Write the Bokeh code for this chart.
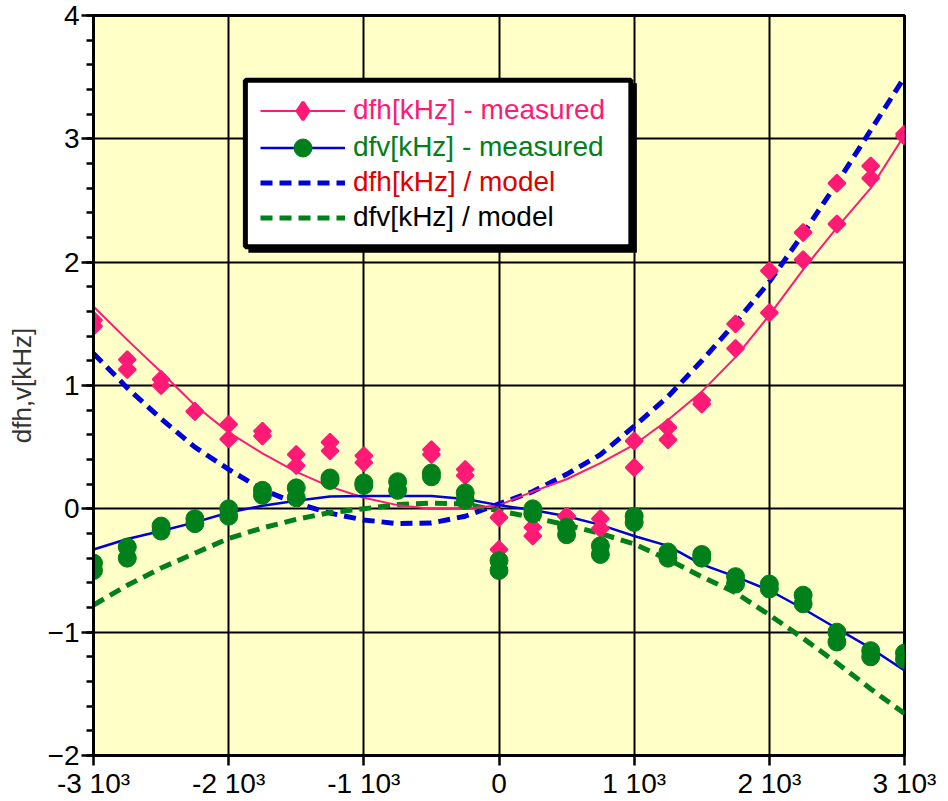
import numpy as np
from bokeh.plotting import figure
from bokeh.models import Range1d, FixedTicker, Legend, LegendItem, BoxAnnotation
from bokeh.embed import file_html
from bokeh.resources import INLINE

# ---------------- data ----------------
x_meas = [-3000, -2750, -2500, -2250, -2000, -1750, -1500, -1250, -1000, -750, -500, -250,
          0, 250, 500, 750, 1000, 1250, 1500, 1750, 2000, 2250, 2500, 2750, 3000]

# dfh measured (two readings per point)
dfh_meas_a = [1.53, 1.21, 1.05, 0.79, 0.685, 0.63, 0.44, 0.54, 0.43, np.nan, 0.48, 0.32,
              -0.07, -0.15, -0.06, -0.08, 0.55, 0.66, 0.88, 1.50, 1.93, 2.24, 2.64, 2.78, 3.04]
dfh_meas_b = [1.48, 1.13, 1.00, 0.79, 0.565, 0.59, 0.35, 0.47, 0.375, np.nan, 0.44, 0.27,
              -0.33, -0.22, -0.06, -0.16, 0.335, 0.56, 0.85, 1.30, 1.59, 2.02, 2.31, 2.68, 3.02]

# dfv measured (two readings per point)
dfv_meas_a = [-0.44, -0.31, -0.14, -0.08, 0.00, 0.15, 0.17, 0.25, 0.21, 0.22, 0.29, 0.13,
              -0.42, 0.00, -0.15, -0.30, -0.06, -0.35, -0.37, -0.55, -0.61, -0.70, -1.00, -1.15, -1.17]
dfv_meas_b = [-0.50, -0.40, -0.18, -0.12, -0.06, 0.11, 0.09, 0.23, 0.19, 0.15, 0.26, 0.07,
              -0.50, -0.04, -0.21, -0.37, -0.11, -0.40, -0.40, -0.61, -0.65, -0.77, -1.08, -1.20, -1.22]

# smooth fits through the measurements
x_curve = x_meas
dfh_fit = [1.64, 1.37, 1.11, 0.84, 0.62, 0.45, 0.30, 0.18, 0.09, 0.03, 0.00, 0.00,
           0.03, 0.14, 0.24, 0.37, 0.52, 0.72, 0.95, 1.23, 1.57, 1.94, 2.28, 2.60, 3.03]
dfv_fit = [-0.33, -0.245, -0.18, -0.11, -0.03, 0.025, 0.065, 0.10, 0.105, 0.105, 0.105, 0.08,
           0.03, -0.01, -0.06, -0.13, -0.22, -0.30, -0.45, -0.55, -0.66, -0.81, -0.97, -1.13, -1.31]

# model curves
dfh_model = [1.26, 0.98, 0.73, 0.50, 0.32, 0.155, 0.045, -0.035, -0.09, -0.12, -0.115, -0.06,
             0.04, 0.14, 0.28, 0.44, 0.67, 0.91, 1.20, 1.51, 1.84, 2.23, 2.64, 3.07, 3.50]
dfv_model = [-0.78, -0.62, -0.48, -0.36, -0.24, -0.155, -0.085, -0.03, 0.0, 0.035, 0.046, 0.04,
             -0.016, -0.07, -0.13, -0.20, -0.285, -0.41, -0.55, -0.68, -0.86, -1.05, -1.25, -1.46, -1.66]

x_ticks = [-3000, -2000, -1000, 0, 1000, 2000, 3000]
x_tick_labels = ["-3 10\u00b3", "-2 10\u00b3", "-1 10\u00b3", "0", "1 10\u00b3", "2 10\u00b3", "3 10\u00b3"]
y_ticks = [-2, -1, 0, 1, 2, 3, 4]
y_label = "dfh,v[kHz]"

legend_labels = ["dfh[kHz] - measured", "dfv[kHz] - measured", "dfh[kHz] / model", "dfv[kHz] / model"]

# ---------------- style ----------------
PINK = "#FF1A75"
GREEN = "#00801A"
BLUE = "#0000D8"
RED = "#E00000"
FONT = "Liberation Sans"

p = figure(width=948, height=801, x_range=Range1d(-3000, 3000), y_range=Range1d(-2, 4),
           output_backend="svg", toolbar_location=None,
           min_border_left=93, min_border_right=44, min_border_top=15, min_border_bottom=44,
           background_fill_color="#FFFFC8", border_fill_color="white",
           outline_line_color="black", outline_line_width=3)

y_minor = [round(v, 2) for v in np.arange(-2, 4.0001, 0.2)]
p.xaxis.ticker = FixedTicker(ticks=x_ticks, minor_ticks=[])
p.yaxis.ticker = FixedTicker(ticks=y_ticks, minor_ticks=y_minor)
p.xgrid.ticker = FixedTicker(ticks=x_ticks)
p.ygrid.ticker = FixedTicker(ticks=y_ticks)
for g in (p.xgrid, p.ygrid):
    g.grid_line_color = "black"
    g.grid_line_width = 2

p.xaxis.major_label_overrides = {t: l for t, l in zip(x_ticks, x_tick_labels)}
for ax in (p.xaxis, p.yaxis):
    ax.axis_line_color = "black"
    ax.axis_line_width = 3
    ax.major_tick_line_color = "black"
    ax.major_tick_line_width = 2.5
    ax.minor_tick_line_color = "black"
    ax.minor_tick_line_width = 2.5
    ax.major_tick_in = 0
    ax.minor_tick_in = 0
    ax.major_label_text_font = FONT
    ax.major_label_text_font_size = "28px"
    ax.major_label_text_color = "black"
p.xaxis.major_tick_out = 10
p.xaxis.major_label_standoff = 2
p.yaxis.major_tick_out = 12
p.yaxis.minor_tick_out = 7
p.yaxis.major_label_standoff = 2
p.yaxis.axis_label = y_label
p.yaxis.axis_label_text_font = FONT
p.yaxis.axis_label_text_font_size = "26px"
p.yaxis.axis_label_text_font_style = "normal"
p.yaxis.axis_label_text_color = "#333333"
p.yaxis.axis_label_standoff = 8

# ---------------- glyphs ----------------
r_hmod = p.line(x_curve, dfh_model, line_color=BLUE, line_width=5, line_dash="12 7")
r_vmod = p.line(x_curve, dfv_model, line_color=GREEN, line_width=5, line_dash="12 7")
r_hfit = p.line(x_curve, dfh_fit, line_color=PINK, line_width=2)
r_vfit = p.line(x_curve, dfv_fit, line_color=BLUE, line_width=2.5)

xm = np.array(x_meas, dtype=float)
def pts(vals):
    v = np.array(vals, dtype=float)
    ok = ~np.isnan(v)
    return xm[ok], v[ok]

hx_a, hy_a = pts(dfh_meas_a)
hx_b, hy_b = pts(dfh_meas_b)
vx_a, vy_a = pts(dfv_meas_a)
vx_b, vy_b = pts(dfv_meas_b)

DIAMOND = np.pi / 4
p.scatter(hx_a, hy_a, marker="square", angle=DIAMOND, size=12, fill_color=PINK, line_color=PINK, line_width=2)
p.scatter(hx_b, hy_b, marker="square", angle=DIAMOND, size=12, fill_color=PINK, line_color=PINK, line_width=2)
r_vm = p.scatter(vx_a, vy_a, marker="circle", size=18, fill_color=GREEN, line_color=GREEN)
p.scatter(vx_b, vy_b, marker="circle", size=18, fill_color=GREEN, line_color=GREEN)

# legend key for the pink measured marker (same data, drawn only in the legend)
r_hm_key = p.scatter(hx_a, hy_a, marker="diamond", fill_color=PINK, line_color=PINK,
                     line_width=3, visible=False)

# ---------------- legend box ----------------
def px_to_x(px):
    return -3000 + (px - 93.3) / (810.0 / 6000.0)

def py_to_y(py):
    return 4 - (py - 15) / (742.0 / 6.0)

shadow = BoxAnnotation(left=px_to_x(248), right=px_to_x(636), top=py_to_y(83), bottom=py_to_y(253),
                       fill_color="black", fill_alpha=1, line_color=None)
box = BoxAnnotation(left=px_to_x(245), right=px_to_x(630), top=py_to_y(80), bottom=py_to_y(247),
                    fill_color="white", fill_alpha=1, line_color="black", line_width=5, line_alpha=1)
p.add_layout(shadow)
p.add_layout(box)

FRAME_BOTTOM = 755
rows = [
    (legend_labels[0], [r_hfit, r_hm_key], PINK, 110),
    (legend_labels[1], [r_vfit, r_vm], GREEN, 147),
    (legend_labels[2], [r_hmod], RED, 182),
    (legend_labels[3], [r_vmod], "black", 217),
]
for label, rends, color, cy in rows:
    bottom = cy + 22.5
    lg = Legend(items=[LegendItem(label=label, renderers=rends)],
                location=(167, FRAME_BOTTOM - bottom),
                glyph_width=85, glyph_height=45, label_standoff=8,
                label_text_font=FONT, label_text_font_size="28px", label_text_color=color,
                padding=0, margin=0, spacing=0,
                border_line_alpha=0, background_fill_alpha=0)
    p.add_layout(lg)

open("out.html", "w").write(file_html(p, INLINE))
